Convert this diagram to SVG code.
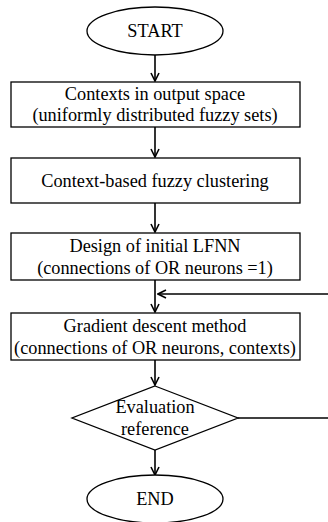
<svg xmlns="http://www.w3.org/2000/svg" width="328" height="522" viewBox="0 0 328 522">
<defs>
<style>
.shape{fill:#fff;stroke:#000;stroke-width:1.3}
.conn{fill:none;stroke:#000;stroke-width:1.6}
.t{font-family:"Liberation Serif","Times New Roman",serif;font-size:18.3px;fill:#000;text-anchor:middle}
</style>
<marker id="ah" viewBox="0 0 10 10" refX="9" refY="5" markerWidth="10" markerHeight="10" markerUnits="userSpaceOnUse" orient="auto">
<path d="M1,1 L9,5 L1,9" fill="none" stroke="#000" stroke-width="1.6"/>
</marker>
</defs>
<rect width="328" height="522" fill="#fff"/>
<g id="connectors">
<line class="conn" x1="155" y1="55" x2="155" y2="81" marker-end="url(#ah)"/>
<line class="conn" x1="155" y1="127" x2="155" y2="157" marker-end="url(#ah)"/>
<line class="conn" x1="155" y1="203" x2="155" y2="232" marker-end="url(#ah)"/>
<line class="conn" x1="155" y1="280" x2="155" y2="312" marker-end="url(#ah)"/>
<line class="conn" x1="155" y1="360" x2="155" y2="385" marker-end="url(#ah)"/>
<line class="conn" x1="155" y1="450" x2="155" y2="475" marker-end="url(#ah)"/>
<line class="conn" x1="238" y1="418" x2="330" y2="418"/>
<line class="conn" x1="330" y1="294" x2="158" y2="294" marker-end="url(#ah)"/>
</g>
<g id="start">
<ellipse class="shape" cx="155" cy="31" rx="68" ry="24"/>
<text class="t" x="155" y="37">START</text>
</g>
<g id="contexts">
<rect class="shape" x="11" y="82" width="289" height="45"/>
<text class="t" x="155" y="100">Contexts in output space</text>
<text class="t" x="155" y="121">(uniformly distributed fuzzy sets)</text>
</g>
<g id="clustering">
<rect class="shape" x="11" y="158" width="289" height="45"/>
<text class="t" x="155" y="187">Context-based fuzzy clustering</text>
</g>
<g id="design">
<rect class="shape" x="11" y="233" width="289" height="47"/>
<text class="t" x="155" y="252">Design of initial LFNN</text>
<text class="t" x="155" y="274">(connections of OR neurons =1)</text>
</g>
<g id="gradient">
<rect class="shape" x="11" y="313" width="289" height="47"/>
<text class="t" x="155" y="332">Gradient descent method</text>
<text class="t" x="155" y="354">(connections of OR neurons, contexts)</text>
</g>
<g id="evaluation">
<polygon class="shape" points="155,386 238,418 155,450 72,418"/>
<text class="t" x="155" y="413">Evaluation</text>
<text class="t" x="155" y="435">reference</text>
</g>
<g id="end">
<ellipse class="shape" cx="155" cy="499" rx="68" ry="24"/>
<text class="t" x="155" y="505">END</text>
</g>
</svg>
